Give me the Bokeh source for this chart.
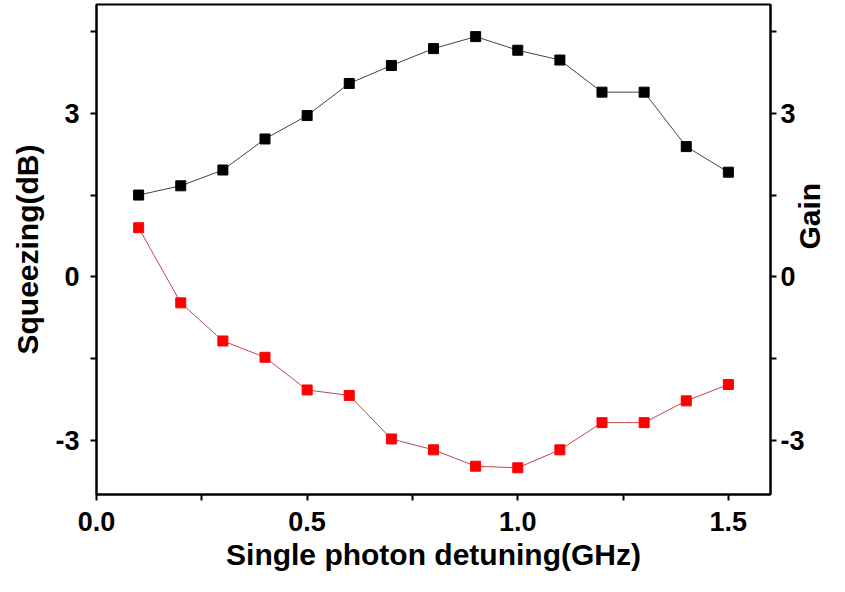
import math
from bokeh.plotting import figure
from bokeh.models import Range1d, LinearAxis, FixedTicker
from bokeh.embed import file_html
from bokeh.resources import INLINE

detuning = [0.1, 0.2, 0.3, 0.4, 0.5, 0.6, 0.7, 0.8, 0.9, 1.0, 1.1, 1.2, 1.3, 1.4, 1.5]
gain = [1.50, 1.67, 1.96, 2.53, 2.96, 3.55, 3.88, 4.19, 4.41, 4.16, 3.98, 3.39, 3.39, 2.39, 1.92]
squeezing = [0.90, -0.48, -1.18, -1.48, -2.08, -2.18, -2.98, -3.18, -3.48, -3.51, -3.18, -2.68, -2.68, -2.28, -1.98]
x_ticks = [0.0, 0.5, 1.0, 1.5]
x_minor = [0.25, 0.75, 1.25]
y_ticks = [-3, 0, 3]
y_minor = [-4.5, -1.5, 1.5, 4.5]

FONT = "Liberation Sans"

p = figure(frame_width=674, frame_height=490, output_backend="svg", toolbar_location=None,
           x_range=Range1d(0, 1.6), y_range=Range1d(-4, 5),
           min_border_left=96, min_border_right=59, min_border_top=4, min_border_bottom=80)
p.extra_y_ranges = {"gain": Range1d(-4, 5)}
p.grid.visible = False
p.outline_line_color = "black"
p.outline_line_width = 2
p.background_fill_color = "white"
p.border_fill_color = "white"

right = LinearAxis(y_range_name="gain")
p.add_layout(right, "right")

p.xaxis.ticker = FixedTicker(ticks=x_ticks, minor_ticks=x_minor)
p.yaxis.ticker = FixedTicker(ticks=y_ticks, minor_ticks=y_minor)
p.xaxis.major_label_overrides = {0.0: "0.0", 0.5: "0.5", 1.0: "1.0", 1.5: "1.5"}
p.yaxis.major_label_overrides = {-3: "-3", 0: "0", 3: "3"}

for ax in p.xaxis + p.yaxis:
    ax.axis_line_width = 2
    ax.axis_line_color = "black"
    ax.major_tick_in = 0
    ax.major_tick_out = 6
    ax.minor_tick_in = 0
    ax.minor_tick_out = 6
    ax.major_tick_line_width = 2
    ax.minor_tick_line_width = 2
    ax.major_label_text_font = FONT
    ax.major_label_text_font_style = "bold"
    ax.major_label_text_font_size = "27px"
    ax.major_label_text_color = "black"
    ax.axis_label_text_font = FONT
    ax.axis_label_text_font_style = "bold"
    ax.axis_label_text_font_size = "30px"
    ax.axis_label_text_color = "black"

p.xaxis.axis_label = "Single photon detuning(GHz)"
p.xaxis.major_label_standoff = 11
p.xaxis.axis_label_standoff = 4
p.yaxis[0].axis_label = "Squeezing(dB)"
p.yaxis[0].major_label_standoff = 11
p.yaxis[0].axis_label_standoff = 8
right.axis_label = "Gain"
right.axis_label_orientation = math.pi / 2
right.major_label_standoff = 4
right.axis_label_standoff = 2

p.line(detuning, gain, line_color="#444444", line_width=1, y_range_name="gain")
p.scatter(detuning, gain, marker="square", size=10, fill_color="black", line_color="black", y_range_name="gain")
p.line(detuning, squeezing, line_color="#c04848", line_width=1)
p.scatter(detuning, squeezing, marker="square", size=10, fill_color="#ff0000", line_color="#ff0000")

open("out.html", "w").write(file_html(p, INLINE))
